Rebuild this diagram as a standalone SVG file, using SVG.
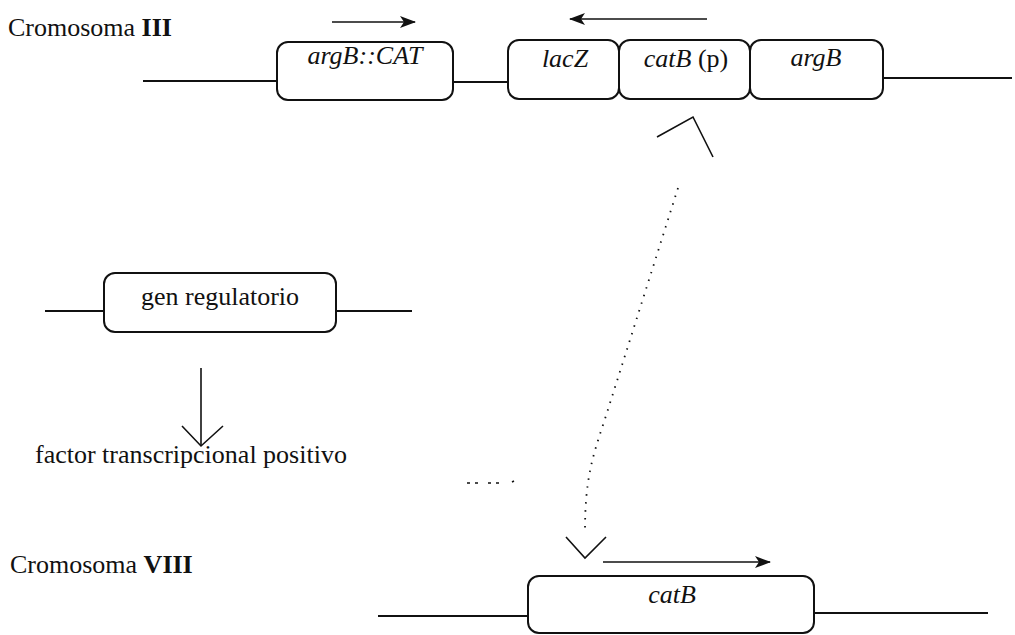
<svg xmlns="http://www.w3.org/2000/svg" width="1015" height="635" viewBox="0 0 1015 635">
<defs>
<style>
text{font-family:"Liberation Serif","Times New Roman",serif;font-size:26px;fill:#111}
.it{font-style:italic}
.c{text-anchor:middle}
.box{fill:#fff;stroke:#111;stroke-width:2}
.ln{stroke:#111;stroke-width:2;fill:none}
.thin{stroke:#111;stroke-width:1.6;fill:none}
.dot{stroke:#111;stroke-width:1.8;fill:none;stroke-dasharray:1.5 6.5}
</style>
<marker id="ah" viewBox="0 0 16 12" refX="15" refY="6" markerWidth="16" markerHeight="12" markerUnits="userSpaceOnUse" orient="auto">
<path d="M0,0 L16,6 L0,12 L4,6 Z" fill="#111"/>
</marker>
</defs>
<rect width="1015" height="635" fill="#fff"/>

<g id="labels">
<text x="8" y="36">Cromosoma <tspan font-weight="bold">III</tspan></text>
<text x="10" y="573">Cromosoma <tspan font-weight="bold">VIII</tspan></text>
</g>

<g id="connectors">
<!-- chromosome III backbone -->
<line class="ln" x1="143" y1="81" x2="277" y2="81"/>
<line class="ln" x1="453" y1="82" x2="508" y2="82"/>
<line class="ln" x1="883" y1="78" x2="1012" y2="78"/>
<!-- regulatory gene backbone -->
<line class="ln" x1="45" y1="311" x2="104" y2="311"/>
<line class="ln" x1="336" y1="311" x2="412" y2="311"/>
<!-- chromosome VIII backbone -->
<line class="ln" x1="378" y1="616" x2="528" y2="616"/>
<line class="ln" x1="814" y1="613" x2="988" y2="613"/>
<!-- transcription direction arrows -->
<line class="thin" x1="332" y1="22" x2="415" y2="22" marker-end="url(#ah)"/>
<line class="thin" x1="707" y1="19" x2="570" y2="19" marker-end="url(#ah)"/>
<line class="thin" x1="603" y1="562" x2="770" y2="562" marker-end="url(#ah)"/>
<!-- regulatory gene to factor -->
<line class="thin" x1="201" y1="368" x2="201" y2="446"/>
<polyline class="thin" points="182,426 201,446 223,426"/>
<!-- dotted interaction -->
<path class="dot" d="M678,188 L604,422 C592,458 585,480 585,532"/>
<polyline class="thin" points="657,137 693,117 713,157"/>
<polyline class="thin" points="566,537 585,558 606,537"/>
<path class="thin" d="M467,483 h3 M475,483 h3 M488,483 h3 M496,483 h3 M512,482 l2,-1"/>
</g>

<g id="argBCAT">
<rect class="box" x="277" y="42" width="176" height="58" rx="11"/>
<text class="it c" x="365" y="64">argB::CAT</text>
</g>
<g id="lacZ">
<rect class="box" x="508" y="40" width="111" height="59" rx="11"/>
<text class="it c" x="565" y="67">lacZ</text>
</g>
<g id="catBp">
<rect class="box" x="619" y="40" width="131" height="59" rx="11"/>
<text class="c" x="686" y="67"><tspan class="it">catB</tspan> (p)</text>
</g>
<g id="argB">
<rect class="box" x="750" y="40" width="133" height="59" rx="11"/>
<text class="it c" x="816" y="66">argB</text>
</g>
<g id="genRegulatorio">
<rect class="box" x="104" y="273" width="232" height="59" rx="11"/>
<text class="c" x="220" y="305">gen regulatorio</text>
</g>
<g id="factor">
<text x="35" y="463">factor transcripcional positivo</text>
</g>
<g id="catB">
<rect class="box" x="528" y="576" width="286" height="57" rx="11"/>
<text class="it c" x="672" y="603">catB</text>
</g>
</svg>
